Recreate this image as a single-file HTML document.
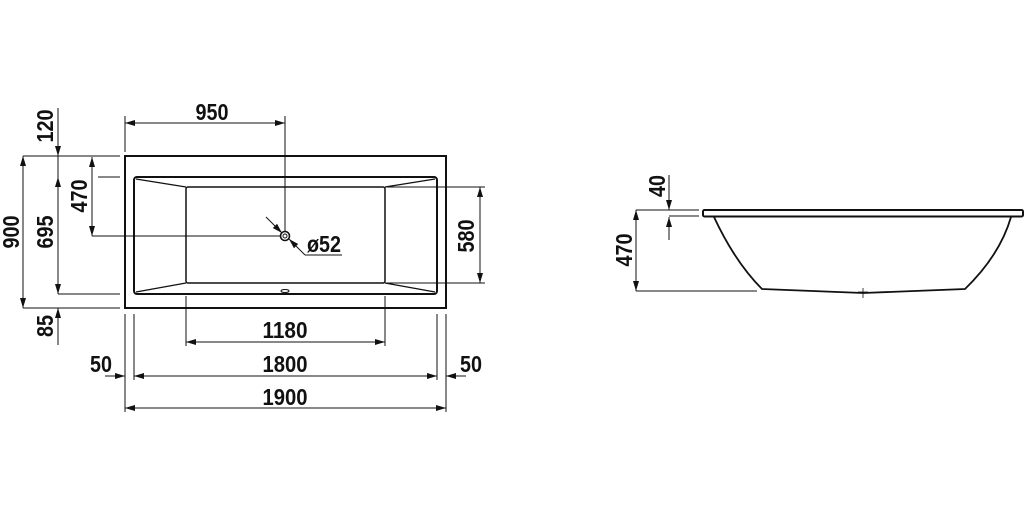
<!DOCTYPE html>
<html><head><meta charset="utf-8"><style>
html,body{margin:0;padding:0;background:#fff;}
svg{display:block}
text{font-family:"Liberation Sans Narrow","Liberation Sans",sans-serif;font-weight:bold;font-size:23px;fill:#111;}
</style></head><body>
<svg width="1024" height="512" viewBox="0 0 1024 512" xmlns="http://www.w3.org/2000/svg">
<defs>
<marker id="a" viewBox="0 0 10 6" refX="10" refY="3" markerWidth="11" markerHeight="6" orient="auto-start-reverse" markerUnits="userSpaceOnUse"><path d="M0,0 L10,3 L0,6 Z" fill="#111"/></marker>
</defs>
<g stroke="#111" fill="none">
<rect x="125" y="156" width="321" height="152" stroke-width="2"/>
<rect x="134" y="177" width="303" height="117" rx="3" stroke-width="2"/>
<rect x="186" y="187" width="199" height="96" rx="2" stroke-width="1.5"/>
<g stroke-width="1.3">
<line x1="136" y1="179" x2="186" y2="187"/><line x1="435" y1="179" x2="385" y2="187"/>
<line x1="136" y1="292" x2="186" y2="283"/><line x1="435" y1="292" x2="385" y2="283"/>
</g>
<circle cx="285" cy="236" r="4.5" stroke-width="1.6"/>
<circle cx="285" cy="236" r="2" stroke-width="1"/>
<ellipse cx="285" cy="291" rx="4" ry="1.5" stroke-width="1"/>
<g stroke-width="1">
<line x1="125" y1="123" x2="285" y2="123" marker-start="url(#a)" marker-end="url(#a)"/>
<line x1="125" y1="116" x2="125" y2="152"/>
<line x1="285" y1="116" x2="285" y2="232"/>
<line x1="266" y1="217" x2="282" y2="233" marker-end="url(#a)"/>
<line x1="305" y1="255" x2="289" y2="239" marker-end="url(#a)"/>
<line x1="305" y1="255" x2="342" y2="255"/>
<line x1="92" y1="157" x2="92" y2="236" marker-start="url(#a)" marker-end="url(#a)"/>
<line x1="92" y1="236" x2="280" y2="236"/>
<line x1="23" y1="156" x2="23" y2="308" marker-start="url(#a)" marker-end="url(#a)"/>
<line x1="23" y1="156" x2="120" y2="156"/>
<line x1="23" y1="308" x2="120" y2="308"/>
<line x1="58" y1="108" x2="58" y2="156" marker-end="url(#a)"/>
<line x1="58" y1="177" x2="58" y2="294" marker-start="url(#a)" marker-end="url(#a)"/>
<line x1="58" y1="345" x2="58" y2="308" marker-end="url(#a)"/>
<line x1="58" y1="156" x2="58" y2="177"/>
<line x1="98" y1="177" x2="120" y2="177"/>
<line x1="58" y1="294" x2="120" y2="294"/>
<line x1="480" y1="187" x2="480" y2="283" marker-start="url(#a)" marker-end="url(#a)"/>
<line x1="385" y1="187" x2="485" y2="187"/>
<line x1="385" y1="283" x2="485" y2="283"/>
<line x1="186" y1="342" x2="385" y2="342" marker-start="url(#a)" marker-end="url(#a)"/>
<line x1="186" y1="296" x2="186" y2="346"/>
<line x1="385" y1="296" x2="385" y2="346"/>
<line x1="134" y1="376" x2="437" y2="376" marker-start="url(#a)" marker-end="url(#a)"/>
<line x1="105" y1="376" x2="125" y2="376" marker-end="url(#a)"/>
<line x1="466" y1="376" x2="446" y2="376" marker-end="url(#a)"/>
<line x1="125" y1="408" x2="446" y2="408" marker-start="url(#a)" marker-end="url(#a)"/>
<line x1="125" y1="314" x2="125" y2="412"/>
<line x1="134" y1="314" x2="134" y2="380"/>
<line x1="437" y1="314" x2="437" y2="380"/>
<line x1="446" y1="314" x2="446" y2="412"/>
</g>
<rect x="703" y="210" width="320" height="6.5" rx="1.5" stroke-width="2"/>
<path d="M714,217 Q735,262 762,289 L863,293 L965,289 Q1000,255 1011,217" stroke-width="1.8"/>
<line x1="863" y1="288" x2="863" y2="298" stroke-width="0.8"/>
<line x1="858" y1="292" x2="868" y2="292" stroke-width="0.8"/>
<g stroke-width="1">
<line x1="636" y1="210" x2="636" y2="291" marker-start="url(#a)" marker-end="url(#a)"/>
<line x1="636" y1="210" x2="699" y2="210"/>
<line x1="636" y1="291" x2="757" y2="291"/>
<line x1="669" y1="175" x2="669" y2="210" marker-end="url(#a)"/>
<line x1="669" y1="240" x2="669" y2="217" marker-end="url(#a)"/>
<line x1="669" y1="216" x2="699" y2="216"/>
</g>
</g>
<text x="212" y="120" text-anchor="middle" textLength="33" lengthAdjust="spacingAndGlyphs">950</text>
<text x="307" y="252" textLength="34" lengthAdjust="spacingAndGlyphs">ø52</text>
<text x="285" y="338" text-anchor="middle" textLength="45" lengthAdjust="spacingAndGlyphs">1180</text>
<text x="285" y="372" text-anchor="middle" textLength="45" lengthAdjust="spacingAndGlyphs">1800</text>
<text x="285" y="405" text-anchor="middle" textLength="45" lengthAdjust="spacingAndGlyphs">1900</text>
<text x="101" y="372" text-anchor="middle" textLength="22" lengthAdjust="spacingAndGlyphs">50</text>
<text x="471" y="372" text-anchor="middle" textLength="22" lengthAdjust="spacingAndGlyphs">50</text>
<text transform="translate(53,126) rotate(-90)" text-anchor="middle" textLength="33" lengthAdjust="spacingAndGlyphs">120</text>
<text transform="translate(19,232) rotate(-90)" text-anchor="middle" textLength="33" lengthAdjust="spacingAndGlyphs">900</text>
<text transform="translate(53,232) rotate(-90)" text-anchor="middle" textLength="33" lengthAdjust="spacingAndGlyphs">695</text>
<text transform="translate(87,196) rotate(-90)" text-anchor="middle" textLength="33" lengthAdjust="spacingAndGlyphs">470</text>
<text transform="translate(53,326) rotate(-90)" text-anchor="middle" textLength="22" lengthAdjust="spacingAndGlyphs">85</text>
<text transform="translate(474,236) rotate(-90)" text-anchor="middle" textLength="33" lengthAdjust="spacingAndGlyphs">580</text>
<text transform="translate(632,250) rotate(-90)" text-anchor="middle" textLength="33" lengthAdjust="spacingAndGlyphs">470</text>
<text transform="translate(665,186) rotate(-90)" text-anchor="middle" textLength="22" lengthAdjust="spacingAndGlyphs">40</text>
</svg>
</body></html>
